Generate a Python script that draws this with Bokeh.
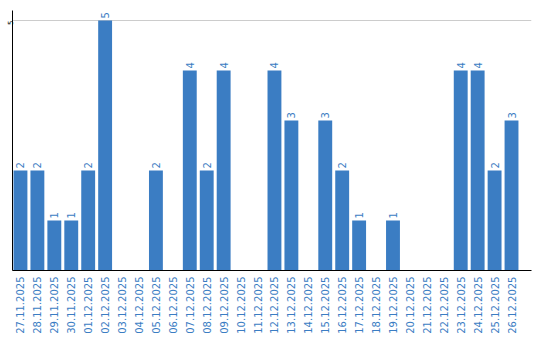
import math
from bokeh.plotting import figure
from bokeh.models import ColumnDataSource, FixedTicker, Range1d
from bokeh.core.properties import value
from bokeh.embed import file_html
from bokeh.resources import INLINE

dates = ["27.11.2025", "28.11.2025", "29.11.2025", "30.11.2025", "01.12.2025",
         "02.12.2025", "03.12.2025", "04.12.2025", "05.12.2025", "06.12.2025",
         "07.12.2025", "08.12.2025", "09.12.2025", "10.12.2025", "11.12.2025",
         "12.12.2025", "13.12.2025", "14.12.2025", "15.12.2025", "16.12.2025",
         "17.12.2025", "18.12.2025", "19.12.2025", "20.12.2025", "21.12.2025",
         "22.12.2025", "23.12.2025", "24.12.2025", "25.12.2025", "26.12.2025"]
counts = [2, 2, 1, 1, 2, 5, 0, 0, 2, 0, 4, 2, 4, 0, 0, 4, 3, 0, 3, 2,
          1, 0, 1, 0, 0, 0, 4, 4, 2, 3]
y_ticks = [5]

BLUE = "#3b7dc3"
FONT = "DejaVu Sans"

idx = list(range(len(dates)))
src = ColumnDataSource(dict(x=idx, y=counts))
lab_x = [i for i, c in zip(idx, counts) if c > 0]
lab_y = [c for c in counts if c > 0]
lab_t = [str(c) for c in lab_y]
lsrc = ColumnDataSource(dict(x=lab_x, y=lab_y, t=lab_t))

p = figure(width=540, height=340, output_backend="svg", toolbar_location=None,
           x_range=Range1d(-0.47, 30.18), y_range=Range1d(0, 5.2),
           min_border_left=10, min_border_right=9, min_border_top=10, min_border_bottom=70)
p.outline_line_color = None
p.background_fill_color = "white"
p.border_fill_color = "white"

p.vbar(x="x", top="y", width=0.82, bottom=0, source=src, fill_color=BLUE, line_color=None)
p.text(x="x", y="y", text="t", source=lsrc, angle=math.pi / 2, text_align="left",
       text_baseline="middle", y_offset=-2, text_color=BLUE, text_font=value(FONT),
       text_font_size="10px")

p.xgrid.grid_line_color = None
p.ygrid.grid_line_color = "#cccccc"
p.ygrid.ticker = FixedTicker(ticks=y_ticks)

xa = p.xaxis[0]
xa.ticker = FixedTicker(ticks=idx)
xa.major_label_overrides = {i: d for i, d in zip(idx, dates)}
xa.major_label_orientation = math.pi / 2
xa.major_label_text_color = BLUE
xa.major_label_text_font = FONT
xa.major_label_text_font_size = "10px"
xa.major_tick_line_color = None
xa.minor_tick_line_color = None
xa.major_tick_out = 0
xa.major_tick_in = 0
xa.major_label_standoff = 6
xa.axis_line_color = "black"

ya = p.yaxis[0]
ya.ticker = FixedTicker(ticks=y_ticks)
ya.major_label_orientation = math.pi / 2
ya.major_label_text_align = "center"
ya.major_label_text_baseline = "middle"
ya.major_label_text_color = "black"
ya.major_label_text_font = FONT
ya.major_label_text_font_size = "7px"
ya.major_tick_line_color = None
ya.minor_tick_line_color = None
ya.major_tick_out = 0
ya.major_tick_in = 0
ya.major_label_standoff = 3
ya.axis_line_color = "black"

open("out.html", "w").write(file_html(p, INLINE))
